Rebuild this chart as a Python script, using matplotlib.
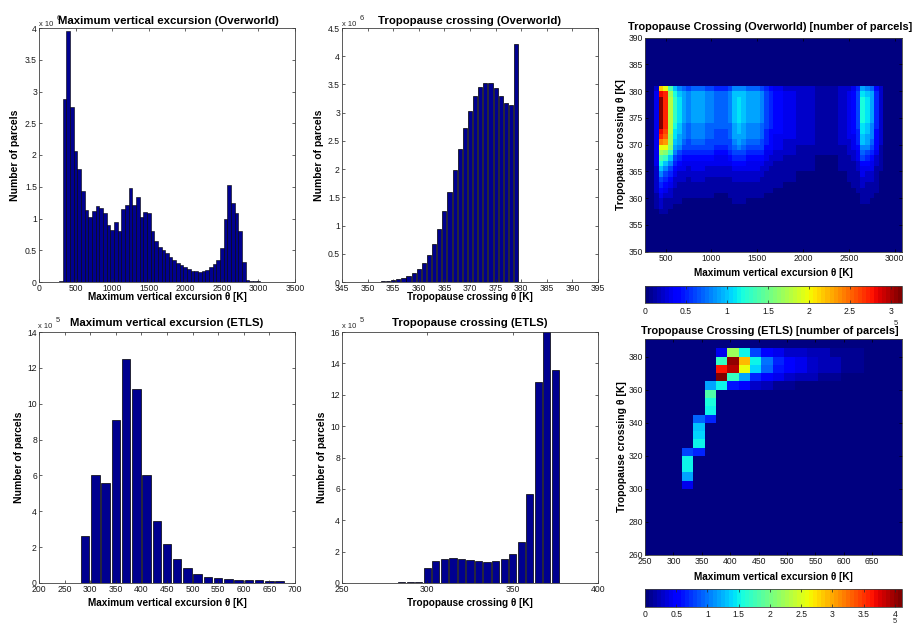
import numpy as np
import matplotlib
matplotlib.use("Agg")
import matplotlib.pyplot as plt
from matplotlib.colors import Normalize

plt.rcParams['font.family'] = ['Liberation Sans', 'DejaVu Sans']

W, H = 914, 627

# ---------------------------------------------------------------- data
# Overworld: maximum vertical excursion histogram (x 1e6 parcels)
ow_exc_bins = np.arange(300, 3001, 50)
ow_exc_counts = [0.01, 2.88, 3.96, 2.75, 2.07, 1.78, 1.43, 1.13, 1.02, 1.12,
                 1.19, 1.16, 1.08, 0.89, 0.82, 0.95, 0.81, 1.15, 1.22, 1.48,
                 1.21, 1.34, 1.03, 1.10, 1.09, 0.80, 0.65, 0.55, 0.51, 0.46,
                 0.40, 0.34, 0.30, 0.27, 0.24, 0.21, 0.18, 0.17, 0.16, 0.17,
                 0.19, 0.23, 0.28, 0.34, 0.54, 0.99, 1.53, 1.24, 1.08, 0.80,
                 0.31, 0.03, 0.01, 0.01, 0.01]

# Overworld: tropopause crossing histogram (x 1e6 parcels)
ow_tp_bins = np.arange(350, 380)
ow_tp_counts = [0.005, 0.005, 0.006, 0.01, 0.02, 0.03, 0.05, 0.07, 0.11, 0.16,
                0.23, 0.33, 0.48, 0.68, 0.94, 1.25, 1.60, 1.98, 2.36, 2.72,
                3.03, 3.29, 3.45, 3.53, 3.52, 3.43, 3.30, 3.18, 3.14, 4.21]

# ETLS: maximum vertical excursion histogram (x 1e5 parcels)
etls_exc_bins = np.arange(290, 671, 20)
etls_exc_counts = [2.60, 6.05, 5.60, 9.07, 12.5, 10.83, 6.02, 3.45, 2.15, 1.32,
                   0.82, 0.52, 0.36, 0.27, 0.23, 0.19, 0.19, 0.15, 0.12, 0.11]

# ETLS: tropopause crossing histogram (x 1e5 parcels)
etls_tp_bins = np.arange(285, 376, 5)
etls_tp_counts = [0.05, 0.05, 0.05, 0.95, 1.42, 1.52, 1.57, 1.52, 1.47, 1.38,
                  1.33, 1.38, 1.52, 1.85, 2.60, 5.68, 12.8, 16.1, 13.58]

# Overworld 2-D map: columns = excursion bins 400..2900, rows = crossing theta
# (top row 380-381 down to 357-358); each character is a base-36 digit,
# unit = 1e4 parcels
ow_map_x = np.arange(400, 2901, 50)
ow_map_y = np.arange(380.5, 357, -1)
ow_map_rows = [
    "2mkea876777 6655568887 7765433222 2222111112 2235987420",
    "3srhca98999 887778aaa9 9986544333 2222111112 2346ba9520",
    "3vridb98999 887778aba9 9986544333 2222111112 2346cb9520",
    "3vridb98999 887778aba9 9986544333 2222111112 2346cb9520",
    "3vridb98999 887778aba9 9986544333 2222111112 2346cb9520",
    "3vridb98999 887778aba9 9986544333 2222111112 2346cb9520",
    "3vridb98999 887778aba9 9986544333 2222111112 2346cb9520",
    "3vrica87888 7777779a98 8876544333 2222111112 2346ba8520",
    "3sqiba87888 7766679a98 8875444333 2222111112 2345ba8420",
    "3rphb987888 7766679998 8875433333 2222111112 2335a98420",
    "3onha976777 6666668987 7765433222 2222111112 2235a97420",
    "3kkg9866666 6655567876 6664433222 1111111111 1234886410",
    "3hgd8655555 5544456665 5553322222 1111111111 1223765310",
    "3eda6544444 4433345554 4443222111 1111000001 1123654210",
    "3ca85433333 3333334443 3332211111 1111000001 1112443210",
    "2a864332333 2222223333 3322111111 1111000001 1112333110",
    "28653222222 2222222222 2221111111 0000000000 0111322100",
    "26542221222 1111112222 2211111111 0000000000 0111222100",
    "25432111111 1111111111 1111111000 0000000000 0011211100",
    "24321111111 1111111111 1111100000 0000000000 0001111100",
    "13221111111 1100011111 1110000000 0000000000 0000111000",
    "12111100000 0000001110 0000000000 0000000000 0000110000",
    "12110000000 0000000000 0000000000 0000000000 0000000000",
    "01100000000 0000000000 0000000000 0000000000 0000000000",
]

# ETLS 2-D map (unit = 1e4 parcels), rows top (380-385) -> bottom (300-305)
etls_map_x = np.arange(325, 626, 20)
etls_map_y = np.arange(382.5, 300, -5)
etls_map = [
    [0, 0, 0, 4, 22, 15, 8, 5, 4, 3, 3, 2, 2, 1, 1, 1],
    [0, 0, 0, 17, 40, 29, 15, 10, 7, 5, 4, 3, 2, 2, 1, 1],
    [0, 0, 0, 36, 39, 26, 14, 9, 6, 5, 4, 3, 2, 2, 1, 1],
    [0, 0, 0, 41, 17, 12, 7, 5, 4, 3, 2, 2, 1, 1, 0, 0],
    [0, 0, 12, 15, 6, 5, 3, 2, 1, 1, 0, 0, 0, 0, 0, 0],
    [0, 0, 18, 0, 0, 0, 0, 0, 0, 0, 0, 0, 0, 0, 0, 0],
    [0, 0, 16, 0, 0, 0, 0, 0, 0, 0, 0, 0, 0, 0, 0, 0],
    [0, 0, 15, 0, 0, 0, 0, 0, 0, 0, 0, 0, 0, 0, 0, 0],
    [0, 9, 7, 0, 0, 0, 0, 0, 0, 0, 0, 0, 0, 0, 0, 0],
    [0, 13, 0, 0, 0, 0, 0, 0, 0, 0, 0, 0, 0, 0, 0, 0],
    [0, 14, 0, 0, 0, 0, 0, 0, 0, 0, 0, 0, 0, 0, 0, 0],
    [0, 15, 0, 0, 0, 0, 0, 0, 0, 0, 0, 0, 0, 0, 0, 0],
    [8, 7, 0, 0, 0, 0, 0, 0, 0, 0, 0, 0, 0, 0, 0, 0],
    [15, 0, 0, 0, 0, 0, 0, 0, 0, 0, 0, 0, 0, 0, 0, 0],
    [15, 0, 0, 0, 0, 0, 0, 0, 0, 0, 0, 0, 0, 0, 0, 0],
    [12, 0, 0, 0, 0, 0, 0, 0, 0, 0, 0, 0, 0, 0, 0, 0],
    [4, 0, 0, 0, 0, 0, 0, 0, 0, 0, 0, 0, 0, 0, 0, 0],
]

# tick labels
tl_yticklabels = ['0', '0.5', '1', '1.5', '2', '2.5', '3', '3.5', '4']
tm_yticklabels = ['0', '0.5', '1', '1.5', '2', '2.5', '3', '3.5', '4', '4.5']
bl_yticklabels = ['0', '2', '4', '6', '8', '10', '12', '14']
bm_yticklabels = ['0', '2', '4', '6', '8', '10', '12', '14', '16']
cb1_ticklabels = ['0', '0.5', '1', '1.5', '2', '2.5', '3']
cb2_ticklabels = ['0', '0.5', '1', '1.5', '2', '2.5', '3', '3.5', '4']

# ---------------------------------------------------------------- style
NAVY = '#00008F'
JET = matplotlib.colormaps['jet'].resampled(64)
TICK_FS = 6.2
TITLE_FS = 8.2
LABEL_FS = 7.2
SPINE = '0.25'

fig = plt.figure(figsize=(W / 100, H / 100), dpi=100)
fig.patch.set_facecolor('white')


def box(x0, y0, x1, y1):
    return fig.add_axes([x0 / W, 1 - y1 / H, (x1 - x0) / W, (y1 - y0) / H])


def put(x, y, s, **kw):
    fig.text(x / W, 1 - y / H, s, **kw)


def style(ax, tickcolor='0.15'):
    for s in ax.spines.values():
        s.set_linewidth(0.6)
        s.set_color(SPINE)
    ax.tick_params(direction='in', top=True, right=True, length=2.2,
                   width=0.5, labelsize=TICK_FS, pad=1.5, colors=tickcolor,
                   labelcolor='0.1')


def title(x, y, s, fs=TITLE_FS):
    put(x, y, s, ha='center', va='baseline', fontsize=fs, fontweight='bold')


def xlabel(x, y, s):
    put(x, y, s, ha='center', va='baseline', fontsize=LABEL_FS, fontweight='bold')


def ylabel(x, y, s):
    put(x, y, s, ha='center', va='center', rotation=90, fontsize=LABEL_FS + 0.3,
        fontweight='bold')


def multiplier(x, y, e):
    put(x, y, 'x 10', ha='left', va='baseline', fontsize=5.4, color='0.15')
    put(x + 17.5, y - 6, e, ha='left', va='baseline', fontsize=5.4, color='0.15')


# ---------------------------------------------------------------- top-left
ax = box(39, 28, 295, 282)
ax.bar(ow_exc_bins, np.array(ow_exc_counts) * 1e6, width=50, color=NAVY,
       edgecolor='k', linewidth=0.4)
ax.set_xlim(0, 3500)
ax.set_xticks(np.arange(0, 3501, 500))
ax.set_ylim(0, 4e6)
ax.set_yticks(np.arange(0, 4.01, 0.5) * 1e6)
ax.set_yticklabels(tl_yticklabels)
style(ax)
multiplier(39, 26, '6')
title(168, 23.5, 'Maximum vertical excursion (Overworld)')
xlabel(167, 300, 'Maximum vertical excursion \u03b8 [K]')
ylabel(15.5, 155, 'Number of parcels')

# ---------------------------------------------------------------- top-middle
ax = box(342, 28, 598, 282)
ax.bar(ow_tp_bins, np.array(ow_tp_counts) * 1e6, width=0.82, color=NAVY,
       edgecolor='k', linewidth=0.5)
ax.set_xlim(345, 395)
ax.set_xticks(np.arange(345, 396, 5))
ax.set_ylim(0, 4.5e6)
ax.set_yticks(np.arange(0, 4.51, 0.5) * 1e6)
ax.set_yticklabels(tm_yticklabels)
style(ax)
multiplier(342, 26, '6')
title(470, 23.5, 'Tropopause crossing (Overworld)')
xlabel(470, 300, 'Tropopause crossing \u03b8 [K]')
ylabel(318.5, 155, 'Number of parcels')

# ---------------------------------------------------------------- bottom-left
ax = box(39, 332, 295, 583)
ax.bar(etls_exc_bins, np.array(etls_exc_counts) * 1e5, width=16.5, color=NAVY,
       edgecolor='k', linewidth=0.5)
ax.set_xlim(200, 700)
ax.set_xticks(np.arange(200, 701, 50))
ax.set_ylim(0, 14e5)
ax.set_yticks(np.arange(0, 14.01, 2) * 1e5)
ax.set_yticklabels(bl_yticklabels)
style(ax)
multiplier(38, 328, '5')
title(167, 325.5, 'Maximum vertical excursion (ETLS)')
xlabel(167, 606, 'Maximum vertical excursion \u03b8 [K]')
ylabel(19.5, 457, 'Number of parcels')

# ---------------------------------------------------------------- bottom-middle
ax = box(342, 332, 598, 583)
ax.bar(etls_tp_bins, np.array(etls_tp_counts) * 1e5, width=4.2, color=NAVY,
       edgecolor='k', linewidth=0.5)
ax.set_xlim(250, 400)
ax.set_xticks(np.arange(250, 401, 50))
ax.set_ylim(0, 16e5)
ax.set_yticks(np.arange(0, 16.01, 2) * 1e5)
ax.set_yticklabels(bm_yticklabels)
style(ax)
multiplier(342, 328, '5')
title(470, 325.5, 'Tropopause crossing (ETLS)')
xlabel(470, 606.5, 'Tropopause crossing \u03b8 [K]')
ylabel(322, 457, 'Number of parcels')

# ---------------------------------------------------------------- top-right map
ow_Z = np.array([[int(c, 36) for c in r.replace(' ', '')] for r in ow_map_rows],
                dtype=float) * 1e4
ow_xe = np.append(ow_map_x - 25, ow_map_x[-1] + 25)
ow_ye = np.append(ow_map_y + 0.5, ow_map_y[-1] - 0.5)
norm1 = Normalize(0, 3.13e5)
ax = box(645, 37.7, 901.7, 251.7)
ax.set_facecolor(JET(0))
m1 = ax.pcolormesh(ow_xe, ow_ye, ow_Z, cmap=JET, norm=norm1, shading='flat')
ax.set_xlim(275, 3075)
ax.set_ylim(350, 390)
ax.set_xticks(np.arange(500, 3001, 500))
ax.set_yticks(np.arange(350, 391, 5))
style(ax, tickcolor='k')
title(770, 30, 'Tropopause Crossing (Overworld) [number of parcels]', fs=7.9)
xlabel(773, 276, 'Maximum vertical excursion \u03b8 [K]')
ylabel(621.5, 145, 'Tropopause crossing \u03b8 [K]')

cax = box(645, 286, 901.7, 303.3)
cb = fig.colorbar(m1, cax=cax, orientation='horizontal')
cb.set_ticks(np.arange(0, 3.01, 0.5) * 1e5)
cb.set_ticklabels(cb1_ticklabels)
cax.tick_params(direction='in', top=True, bottom=True, length=2.2, width=0.5,
                labelsize=TICK_FS, pad=2.5, colors='0.15', labelcolor='0.1')
cb.outline.set_linewidth(0.6)
cb.outline.set_edgecolor(SPINE)

# ---------------------------------------------------------------- bottom-right map
et_Z = np.array(etls_map, dtype=float) * 1e4
et_xe = np.append(etls_map_x - 10, etls_map_x[-1] + 10)
et_ye = np.append(etls_map_y + 2.5, etls_map_y[-1] - 2.5)
norm2 = Normalize(0, 4.11e5)
ax = box(645, 339.3, 901.7, 555)
ax.set_facecolor(JET(0))
m2 = ax.pcolormesh(et_xe, et_ye, et_Z, cmap=JET, norm=norm2, shading='flat')
ax.set_xlim(250, 702)
ax.set_ylim(260, 390.5)
ax.set_xticks(np.arange(250, 651, 50))
ax.set_yticks(np.arange(260, 381, 20))
style(ax, tickcolor='k')
title(770, 334, 'Tropopause Crossing (ETLS) [number of parcels]', fs=7.9)
xlabel(773, 580, 'Maximum vertical excursion \u03b8 [K]')
ylabel(622, 447, 'Tropopause crossing \u03b8 [K]')

cax = box(645, 589.3, 901.7, 606.7)
cb = fig.colorbar(m2, cax=cax, orientation='horizontal')
cb.set_ticks(np.arange(0, 4.01, 0.5) * 1e5)
cb.set_ticklabels(cb2_ticklabels)
cax.tick_params(direction='in', top=True, bottom=True, length=2.2, width=0.5,
                labelsize=TICK_FS, pad=2.5, colors='0.15', labelcolor='0.1')
cb.outline.set_linewidth(0.6)
cb.outline.set_edgecolor(SPINE)

# colour-bar exponents (partly hidden in the original)
put(894, 325, '5', ha='left', va='baseline', fontsize=5.4, color='0.15')
put(893, 623, '5', ha='left', va='baseline', fontsize=5.4, color='0.15')

fig.savefig('out.png', dpi=100, facecolor='white')
